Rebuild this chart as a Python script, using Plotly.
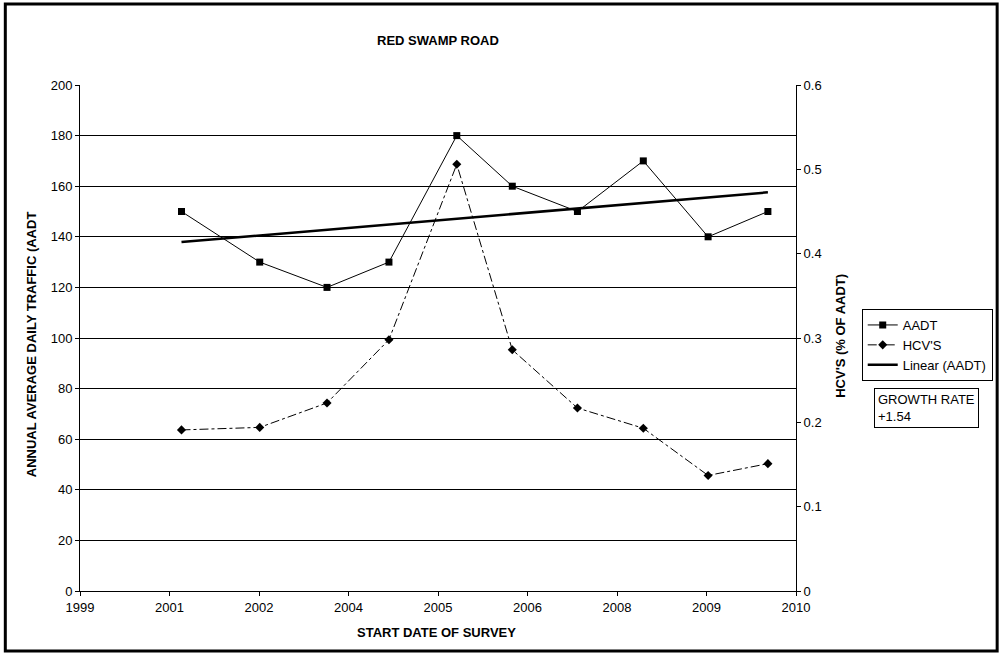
import numpy as np
import pandas as pd
import plotly.graph_objects as go

# Survey start dates and measured values
survey_dates = ["2001-06-24", "2002-09-04", "2003-09-15", "2004-08-26", "2005-09-09",
                "2006-07-16", "2007-07-15", "2008-07-17", "2009-07-14", "2010-06-13"]
aadt = [150, 130, 120, 130, 180, 160, 150, 170, 140, 150]
hcv_pct = [0.191, 0.194, 0.223, 0.298, 0.506, 0.286, 0.217, 0.193, 0.137, 0.151]

# Date axis: starts 1999-12-05, major unit of 500 days, labelled by year
axis_start = "1999-12-05"
tick_step_days = 500
x_tick_labels = ["1999", "2001", "2002", "2004", "2005", "2006", "2008", "2009", "2010"]
growth_rate_text = "+1.54"

FONT = "Liberation Sans, Arial, sans-serif"
W, H = 1005, 656
L, R, T, B = 80, 1005 - 799, 85, 656 - 591
PW, PH = W - L - R, H - T - B


def px_x(p):
    return (p - L) / PW


def px_y(p):
    return (H - B - p) / PH


dates = pd.to_datetime(survey_dates)
start = pd.Timestamp(axis_start)
tick_dates = [start + pd.Timedelta(days=tick_step_days * k) for k in range(len(x_tick_labels))]
x_end = tick_dates[-1]

# Linear trend of AADT against date
days = np.array([(d - start).days for d in dates], dtype=float)
slope, intercept = np.polyfit(days, np.array(aadt, dtype=float), 1)
trend_days = np.array([days.min(), days.max()])
trend_x = [start + pd.Timedelta(days=float(d)) for d in trend_days]
trend_y = slope * trend_days + intercept

fig = go.Figure()
fig.add_trace(go.Scatter(
    x=dates, y=aadt, name="AADT", mode="lines+markers",
    line=dict(color="black", width=1),
    marker=dict(symbol="square", size=7, color="black"),
))
fig.add_trace(go.Scatter(
    x=dates, y=hcv_pct, name="HCV'S", mode="lines+markers", yaxis="y2",
    line=dict(color="black", width=1, dash="dashdot"),
    marker=dict(symbol="diamond", size=7, color="black"),
))
fig.add_trace(go.Scatter(
    x=trend_x, y=trend_y, name="Linear (AADT)", mode="lines",
    line=dict(color="black", width=2.5),
))

fig.update_layout(
    width=W, height=H,
    margin=dict(l=L, r=R, t=T, b=B),
    paper_bgcolor="white", plot_bgcolor="white",
    font=dict(family=FONT, size=13, color="black"),
    showlegend=True,
    legend=dict(
        x=px_x(865), y=px_y(309), xanchor="left", yanchor="top",
        bordercolor="black", borderwidth=1, bgcolor="white",
        font=dict(size=13), tracegroupgap=0,
    ),
    xaxis=dict(
        type="date", range=[start, x_end],
        tickvals=tick_dates, ticktext=x_tick_labels,
        showgrid=False, zeroline=False,
        showline=True, linecolor="black", linewidth=1,
        ticks="outside", ticklen=4, tickcolor="black",
        tickfont=dict(size=13),
    ),
    yaxis=dict(
        range=[0, 200], dtick=20,
        showgrid=True, gridcolor="black", gridwidth=1, zeroline=False,
        showline=True, linecolor="black", linewidth=1,
        ticks="outside", ticklen=4, tickcolor="black",
        tickfont=dict(size=13),
    ),
    yaxis2=dict(
        range=[0, 0.6], dtick=0.1, overlaying="y", side="right",
        showgrid=False, zeroline=False,
        showline=True, linecolor="black", linewidth=1,
        ticks="outside", ticklen=4, tickcolor="black",
        tickfont=dict(size=13),
    ),
)

annotations = [
    dict(text="<b>RED SWAMP ROAD</b>", x=px_x(440), y=px_y(40),
         font=dict(size=13)),
    dict(text="<b>ANNUAL AVERAGE DAILY TRAFFIC (AADT</b>", x=px_x(32), y=px_y(344),
         textangle=-90, font=dict(size=13)),
    dict(text="<b>HCV'S (% OF AADT)</b>", x=px_x(843), y=px_y(336),
         textangle=-90, font=dict(size=13)),
    dict(text="<b>START DATE OF SURVEY</b>", x=px_x(438), y=px_y(632),
         font=dict(size=13)),
    dict(text="GROWTH RATE<br>" + growth_rate_text, x=px_x(877), y=px_y(388),
         xanchor="left", yanchor="top", align="left", showarrow=False,
         bordercolor="black", borderwidth=1, borderpad=3, bgcolor="white",
         font=dict(size=13)),
]
for a in annotations:
    a.setdefault("xref", "paper")
    a.setdefault("yref", "paper")
    a.setdefault("showarrow", False)
    a.setdefault("xanchor", "center")
    a.setdefault("yanchor", "middle")
fig.update_layout(annotations=annotations)

# Outer chart-area frame
fig.add_shape(type="rect", xref="paper", yref="paper",
              x0=px_x(5), x1=px_x(1001), y0=px_y(651), y1=px_y(4),
              line=dict(color="black", width=3), fillcolor="rgba(0,0,0,0)")

fig.write_html("out.html")
